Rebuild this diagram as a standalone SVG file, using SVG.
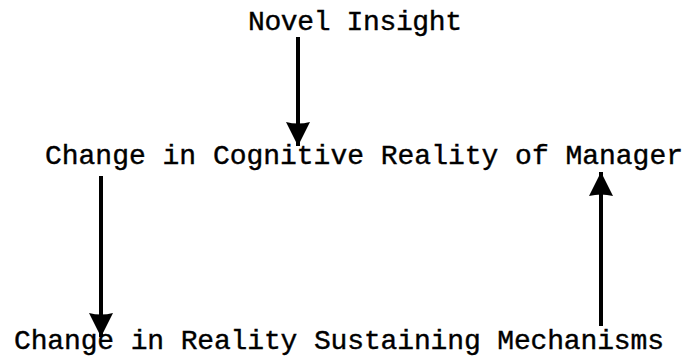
<svg xmlns="http://www.w3.org/2000/svg" width="690" height="360" viewBox="0 0 690 360">
  <style>
    .label { font-family: "Liberation Mono", "Courier New", monospace; font-size: 28px; fill: #000; stroke: #000; stroke-width: 0.4px; }
    .link { stroke: #000; stroke-width: 4; fill: none; stroke-linecap: butt; }
  </style>
  <defs>
    <marker id="head" markerUnits="userSpaceOnUse" markerWidth="26" markerHeight="26" viewBox="0 0 26 26" refX="24" refY="13" orient="auto">
      <path d="M0,1 Q3,13 0,25 L24,13 Z" fill="#000"/>
    </marker>
  </defs>
  <rect width="690" height="360" fill="#fff"/>

  <g id="node-insight">
    <text class="label" x="248" y="30" textLength="214">Novel Insight</text>
  </g>
  <g id="node-cognitive">
    <text class="label" x="45" y="164" textLength="638">Change in Cognitive Reality of Manager</text>
  </g>
  <g id="node-mechanisms">
    <text class="label" x="14" y="349" textLength="650">Change in Reality Sustaining Mechanisms</text>
  </g>

  <g id="connectors">
    <line class="link" x1="298" y1="37" x2="298" y2="146" marker-end="url(#head)"/>
    <line class="link" x1="101" y1="176" x2="101" y2="337" marker-end="url(#head)"/>
    <line class="link" x1="601" y1="326" x2="601" y2="172" marker-end="url(#head)"/>
  </g>
</svg>
